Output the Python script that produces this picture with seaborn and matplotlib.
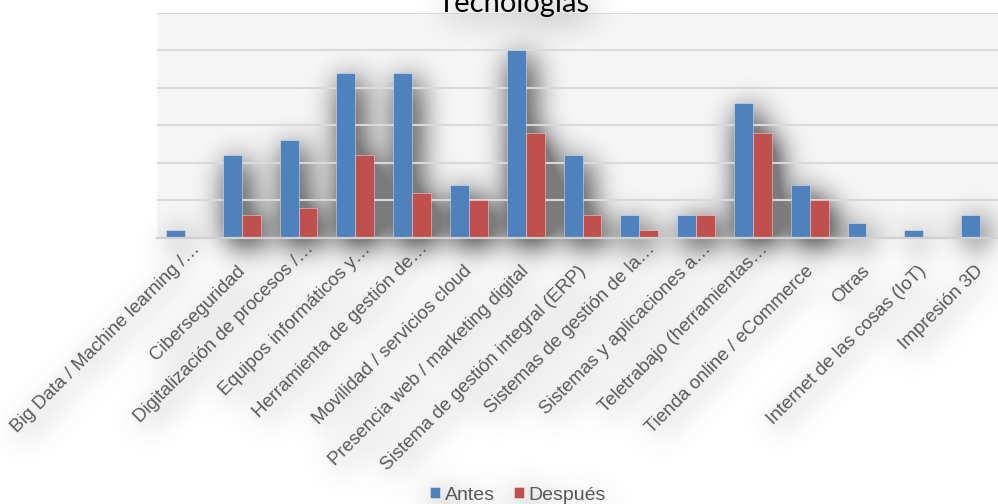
import numpy as np
import pandas as pd
import matplotlib
matplotlib.use("Agg")
import matplotlib.pyplot as plt
import matplotlib.transforms as mtransforms
import seaborn as sns
from matplotlib.patches import Rectangle

# Adopción de tecnologías: número de empresas antes y después
categorias = [
    "Big Data / Machine learning /…",
    "Ciberseguridad",
    "Digitalización de procesos /…",
    "Equipos informáticos y…",
    "Herramienta de gestión de…",
    "Movilidad / servicios cloud",
    "Presencia web / marketing digital",
    "Sistema de gestión integral (ERP)",
    "Sistemas de gestión de la…",
    "Sistemas y aplicaciones a…",
    "Teletrabajo (herramientas…",
    "Tienda online / eCommerce",
    "Otras",
    "Internet de las cosas (IoT)",
    "Impresión 3D",
]
antes = [1, 11, 13, 22, 22, 7, 25, 11, 3, 3, 18, 7, 2, 1, 3]
despues = [0, 3, 4, 11, 6, 5, 14, 3, 1, 3, 14, 5, 0, 0, 0]
series = ["Antes", "Después"]
colores = ["#4F81BD", "#C0504D"]
titulo = "Tecnologías"

df = pd.DataFrame({
    "Tecnología": categorias * 2,
    "Periodo": ["Antes"] * len(categorias) + ["Después"] * len(categorias),
    "Valor": antes + despues,
})

W, H, DPI = 9.98, 5.04, 100
AX_RECT = [156.5 / 998, 1 - 237.5 / 504, 852 / 998, 224.5 / 504]


def build(silhouette):
    """Draw the chart; with silhouette=True everything is drawn as dark ink
    on a transparent canvas (used to cast the soft drop shadow)."""
    sns.set_theme(style="white")
    plt.rcParams["font.family"] = ["Liberation Sans", "DejaVu Sans"]
    fig = plt.figure(figsize=(W, H), dpi=DPI)
    if silhouette:
        fig.patch.set_alpha(0)
    ink = (0, 0, 0, 0.6) if silhouette else "#595959"

    ax = fig.add_axes(AX_RECT)
    ax.set_facecolor("none")
    sns.barplot(
        data=df, x="Tecnología", y="Valor", hue="Periodo",
        order=categorias, hue_order=series,
        palette=["black", "black"] if silhouette else colores,
        saturation=1, width=0.667,
        edgecolor="black" if silhouette else (1, 1, 1, 0.45),
        linewidth=0.6, errorbar=None, ax=ax,
    )
    ax.set_xlim(-0.5, len(categorias) - 0.5)
    ax.set_ylim(0, 30)
    ax.set_yticks(np.arange(0, 31, 5))
    ax.set_yticklabels([])
    ax.set_xlabel("")
    ax.set_ylabel("")
    ax.tick_params(axis="both", length=0)
    ax.tick_params(axis="x", pad=0)
    ax.set_xticks(range(len(categorias)))
    ax.set_xticklabels(categorias, rotation=45, ha="right", va="baseline",
                       rotation_mode="anchor", fontsize=13.5, color=ink)
    # label ends sit a little below the axis; shortened (…) labels sit higher
    for lab in ax.get_xticklabels():
        if lab.get_text().endswith("…"):
            dx, dy = 16, -12
        else:
            dx, dy = 4, -34
        off = mtransforms.ScaledTranslation(dx / DPI, dy / DPI, fig.dpi_scale_trans)
        lab.set_transform(lab.get_transform() + off)
    for s in ["left", "right", "top"]:
        ax.spines[s].set_visible(False)
    if silhouette:
        ax.spines["bottom"].set_visible(False)
        ax.yaxis.grid(False)
    else:
        ax.spines["bottom"].set_color("#d0d0d0")
        ax.spines["bottom"].set_linewidth(1.6)
        ax.yaxis.grid(True, color="#d9d9d9", linewidth=1.5)
        ax.set_axisbelow(True)

    handles, labels = ax.get_legend_handles_labels()
    ax.get_legend().remove()
    fig.legend(handles, labels, loc="center",
               bbox_to_anchor=(518 / 998, 9 / 504),
               ncol=2, frameon=False, fontsize=14, labelcolor=ink,
               handlelength=0.5, handleheight=0.5, handletextpad=0.25,
               columnspacing=1.0)

    fig.text(514 / 998, 1 - 12 / 504, titulo, ha="center", va="baseline",
             fontsize=21, family=["Lato", "DejaVu Sans"],
             color=(0, 0, 0, 0.7) if silhouette else "black")
    return fig, ax


def gaussian_blur(a, sigma):
    r = int(3 * sigma)
    x = np.arange(-r, r + 1)
    k = np.exp(-x ** 2 / (2 * sigma ** 2))
    k /= k.sum()
    pad = np.pad(a, r, mode="constant")
    out = np.zeros_like(pad)
    for i, w in enumerate(k):
        out += w * np.roll(pad, i - r, axis=0)
    pad, out = out, np.zeros_like(out)
    for i, w in enumerate(k):
        out += w * np.roll(pad, i - r, axis=1)
    return out[r:-r, r:-r]


# silhouette pass -> soft drop shadow behind bars and texts
mask_fig, _ = build(silhouette=True)
mask_fig.canvas.draw()
alpha = np.asarray(mask_fig.canvas.buffer_rgba())[..., 3].astype(float) / 255.0
plt.close(mask_fig)
alpha = np.roll(alpha, shift=(7, 5), axis=(0, 1))
alpha = gaussian_blur(alpha, 15) * 1.0
shadow = np.zeros(alpha.shape + (4,))
shadow[..., 3] = np.clip(alpha, 0, 0.5)

fig, ax = build(silhouette=False)
fig.add_artist(Rectangle((AX_RECT[0], AX_RECT[1]), AX_RECT[2], AX_RECT[3],
                         transform=fig.transFigure, facecolor="#f5f5f5",
                         edgecolor="none", zorder=-2))
fig.figimage(shadow, xo=0, yo=0, origin="upper", zorder=-1)
fig.savefig("out.png", dpi=DPI)
